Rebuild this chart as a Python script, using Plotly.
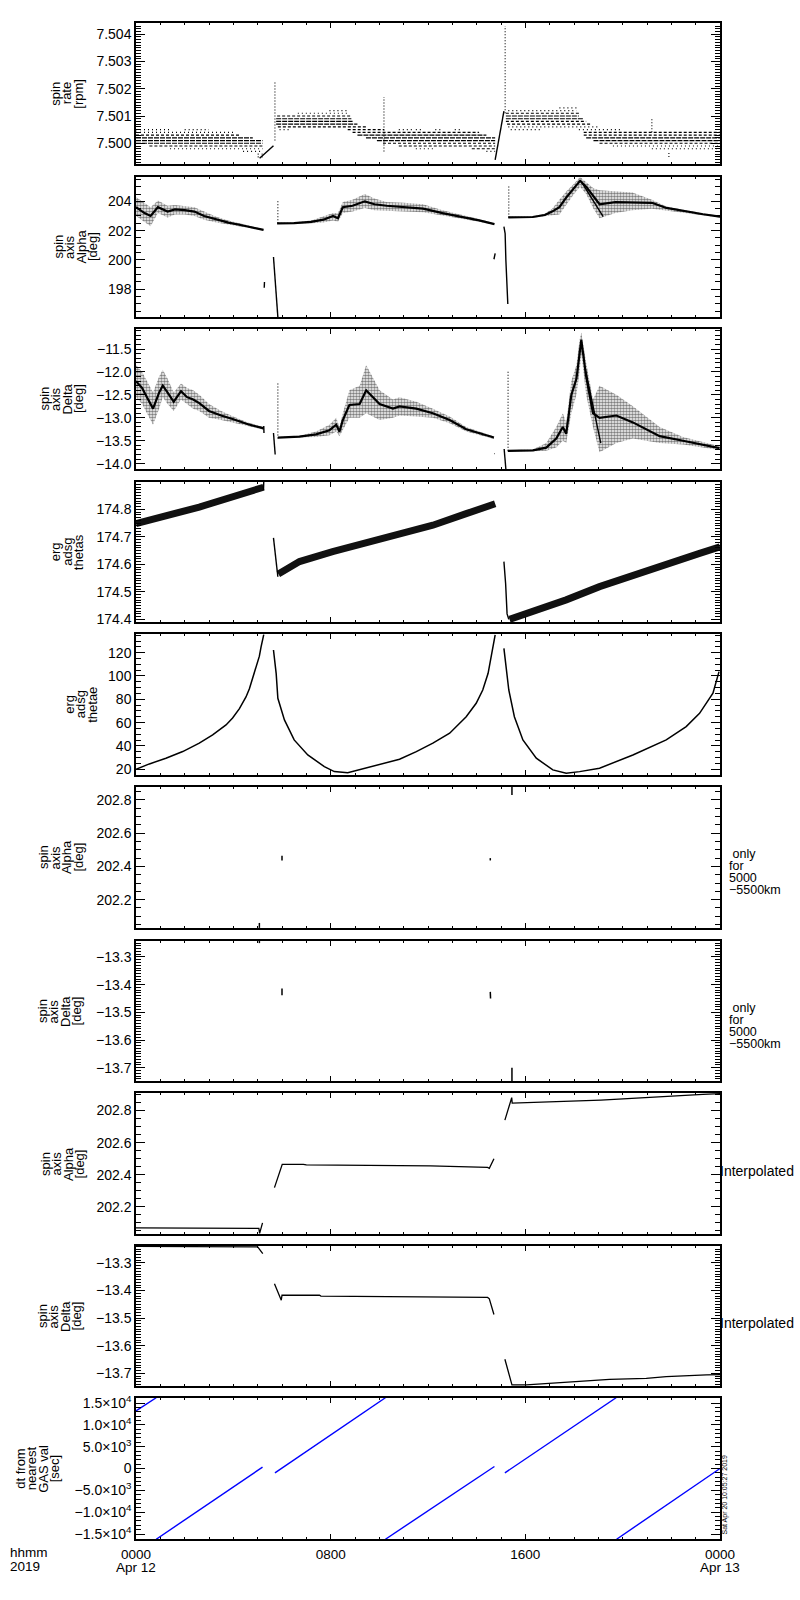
import plotly.graph_objects as go

# ------------------------------------------------------------------ data
HOURS_MAJOR = [0, 8, 16, 24]
HOURS_MAJOR_TEXT = ["0000", "0800", "1600", "0000"]
HOURS_MINOR = list(range(0, 25))

# panel 1 : spin rate [rpm]  -- quantised levels (level, start h, end h, density)
P1_LEVELS = [
    (7.5005, 0.0, 1.4, "o"), (7.5005, 2.0, 3.0, "o"), (7.5004, 0.0, 4.0, "o"),
    (7.5003, 0.0, 4.25, "d"), (7.5002, 0.0, 4.8, "s"), (7.5001, 0.0, 5.2, "s"),
    (7.5000, 0.0, 5.2, "s"), (7.4999, 0.55, 5.2, "d"), (7.4998, 1.4, 5.2, "o"),
    (7.4997, 4.4, 5.2, "o"), (7.4996, 5.0, 5.2, "o"), (7.4995, 5.0, 5.2, "o"),
    (7.5012, 7.95, 8.7, "o"), (7.5011, 6.65, 8.7, "o"), (7.5010, 5.8, 8.8, "d"),
    (7.5009, 5.76, 8.85, "s"), (7.5008, 5.76, 8.9, "s"), (7.5007, 5.76, 9.1, "s"),
    (7.5006, 5.83, 9.5, "d"), (7.5005, 5.9, 6.3, "o"), (7.5005, 8.7, 10.2, "d"),
    (7.5005, 10.8, 11.4, "o"), (7.5005, 11.5, 11.8, "o"), (7.5005, 12.3, 12.6, "o"),
    (7.5005, 13.1, 13.4, "o"), (7.5004, 8.9, 14.1, "d"), (7.5003, 9.1, 14.4, "s"),
    (7.5002, 9.45, 14.76, "s"), (7.5001, 9.9, 14.76, "s"), (7.5000, 10.15, 14.76, "d"),
    (7.4999, 10.8, 14.76, "d"), (7.4998, 11.5, 12.3, "o"), (7.4998, 13.8, 14.76, "d"),
    (7.4997, 14.4, 14.76, "o"),
    (7.5013, 17.4, 18.1, "o"), (7.5012, 15.3, 18.1, "o"), (7.5011, 15.2, 18.2, "d"),
    (7.5010, 15.2, 18.2, "s"), (7.5009, 15.2, 18.4, "s"), (7.5008, 15.2, 18.5, "d"),
    (7.5007, 15.25, 18.7, "d"), (7.5006, 15.3, 19.05, "o"), (7.5005, 15.4, 16.6, "o"),
    (7.5005, 18.2, 19.9, "o"), (7.5004, 18.4, 24.0, "d"), (7.5003, 18.4, 24.0, "d"),
    (7.5002, 18.5, 24.0, "s"), (7.5001, 18.8, 24.0, "s"), (7.5000, 19.05, 24.0, "d"),
    (7.4999, 19.6, 24.0, "o"), (7.4998, 21.2, 24.0, "o"),
]
P1_SPIKES = [(5.71, 7.5001, 7.5023), (10.19, 7.4997, 7.5017), (15.17, 7.5011, 7.5043),
             (21.2, 7.5004, 7.5009), (21.9, 7.4995, 7.4997)]
P1_RAMP1_T = [5.08, 5.65]
P1_RAMP1_V = [7.49945, 7.49991]
P1_RAMP2_T = [14.76, 15.12]
P1_RAMP2_V = [7.49939, 7.50118]

# panel 2 : spin axis Alpha [deg]
P2_B1_T = [0.0, 0.35, 0.6, 0.9, 1.3, 1.6, 2.0, 2.4, 2.8, 3.3, 3.8, 4.4, 5.0, 5.24]
P2_B1_MID = [203.6, 203.2, 203.0, 203.6, 203.3, 203.45, 203.4, 203.3, 203.0, 202.75, 202.55, 202.35, 202.15, 202.05]
P2_B1_HI = [204.3, 203.9, 203.6, 204.05, 203.7, 203.75, 203.7, 203.6, 203.3, 202.95, 202.7, 202.45, 202.2, 202.1]
P2_B1_LO = [203.0, 202.6, 202.3, 203.2, 202.9, 203.1, 203.1, 203.0, 202.75, 202.55, 202.4, 202.25, 202.1, 202.0]
P2_B2_T = [5.8, 6.5, 7.2, 7.7, 8.1, 8.3, 8.5, 8.9, 9.4, 9.8, 10.3, 11.0, 11.8, 12.6, 13.4, 14.1, 14.73]
P2_B2_MID = [202.5, 202.52, 202.6, 202.75, 203.0, 202.85, 203.6, 203.7, 204.0, 203.8, 203.7, 203.6, 203.5, 203.2, 202.95, 202.7, 202.45]
P2_B2_HI = [202.55, 202.57, 202.7, 202.95, 203.2, 203.2, 203.95, 204.1, 204.5, 204.2, 203.95, 203.9, 203.8, 203.4, 203.1, 202.8, 202.5]
P2_B2_LO = [202.45, 202.47, 202.5, 202.55, 202.7, 202.6, 203.2, 203.3, 203.55, 203.4, 203.35, 203.3, 203.25, 203.0, 202.8, 202.6, 202.4]
P2_B3_T = [15.3, 16.3, 16.8, 17.1, 17.4, 17.7, 18.0, 18.25, 18.5, 18.8, 19.05, 19.7, 20.4, 21.2, 21.8, 22.6, 23.3, 24.0]
P2_B3_MID = [202.91, 202.93, 203.07, 203.3, 203.6, 204.3, 204.9, 205.4, 205.0, 204.3, 203.8, 203.95, 203.95, 203.9, 203.55, 203.3, 203.12, 202.95]
P2_B3_HI = [202.96, 202.98, 203.15, 203.5, 204.1, 204.7, 205.2, 205.66, 205.3, 204.9, 204.75, 204.7, 204.6, 204.1, 203.65, 203.4, 203.2, 203.0]
P2_B3_LO = [202.86, 202.88, 202.98, 203.05, 203.1, 203.8, 204.5, 205.0, 204.5, 203.5, 202.85, 203.2, 203.4, 203.5, 203.4, 203.2, 203.05, 202.9]
P2_SEGS = [([5.27, 5.28], [198.1, 198.5]),
           ([5.65, 5.68, 5.76, 5.83], [200.2, 199.6, 198.0, 196.1]),
           ([14.71, 14.76], [200.05, 200.45]),
           ([15.12, 15.17, 15.2, 15.28], [202.27, 201.8, 200.0, 197.0]),
           ([18.3, 19.2], [205.35, 202.95])]
P2_SPIKES = [(5.83, 202.5, 204.1), (15.32, 202.9, 205.1)]

# panel 3 : spin axis Delta [deg]
P3_B1_T = [0.0, 0.25, 0.45, 0.7, 0.95, 1.1, 1.3, 1.55, 1.85, 2.1, 2.35, 2.6, 3.0, 3.5, 4.0, 4.6, 5.25]
P3_B1_MID = [-12.2, -12.35, -12.55, -12.8, -12.45, -12.3, -12.45, -12.65, -12.42, -12.55, -12.6, -12.68, -12.85, -12.95, -13.03, -13.14, -13.23]
P3_B1_HI = [-11.85, -12.0, -12.2, -12.45, -12.1, -11.95, -12.15, -12.45, -12.25, -12.35, -12.4, -12.5, -12.7, -12.85, -12.97, -13.1, -13.2]
P3_B1_LO = [-12.55, -12.7, -12.9, -13.15, -12.8, -12.55, -12.7, -12.85, -12.6, -12.7, -12.8, -12.85, -13.0, -13.05, -13.1, -13.18, -13.26]
P3_B2_T = [5.83, 6.72, 7.4, 7.95, 8.23, 8.36, 8.5, 8.77, 9.19, 9.46, 10.01, 10.56, 10.83, 11.52, 12.2, 12.89, 13.57, 14.71]
P3_B2_MID = [-13.43, -13.41, -13.36, -13.27, -13.15, -13.3, -13.05, -12.72, -12.7, -12.4, -12.7, -12.8, -12.75, -12.8, -12.9, -13.05, -13.25, -13.43]
P3_B2_HI = [-13.42, -13.39, -13.3, -13.15, -13.0, -13.2, -12.9, -12.4, -12.3, -11.85, -12.4, -12.6, -12.55, -12.65, -12.8, -12.97, -13.2, -13.41]
P3_B2_LO = [-13.44, -13.43, -13.42, -13.38, -13.3, -13.4, -13.25, -13.0, -13.0, -12.9, -13.05, -13.0, -12.95, -12.97, -13.0, -13.12, -13.3, -13.46]
P3_B3_T = [15.28, 16.31, 16.86, 17.27, 17.54, 17.68, 17.89, 18.1, 18.23, 18.3, 18.5, 18.78, 19.05, 19.74, 20.42, 21.52, 22.48, 23.98]
P3_B3_MID = [-13.72, -13.71, -13.65, -13.45, -13.2, -13.35, -12.5, -12.15, -11.6, -11.3, -12.1, -12.9, -13.0, -12.95, -13.1, -13.4, -13.5, -13.66]
P3_B3_HI = [-13.71, -13.69, -13.55, -13.2, -12.9, -13.1, -12.2, -11.85, -11.3, -11.14, -11.8, -12.6, -12.3, -12.5, -12.75, -13.2, -13.42, -13.62]
P3_B3_LO = [-13.73, -13.73, -13.72, -13.65, -13.5, -13.55, -12.9, -12.5, -12.0, -11.6, -12.5, -13.2, -13.75, -13.55, -13.45, -13.55, -13.58, -13.7]
P3_SEGS = [([5.25, 5.26], [-13.18, -13.33]),
           ([5.65, 5.68, 5.72], [-13.33, -13.6, -13.80]),
           ([14.73, 14.75], [-13.78, -13.78]),
           ([15.13, 15.17, 15.2], [-13.68, -13.9, -14.12]),
           ([18.45, 19.1], [-11.9, -13.55])]
P3_SPIKES = [(5.83, -13.45, -12.21), (15.29, -13.72, -11.99)]

# panel 4 : erg adsg thetas
P4_B1_T = [0.0, 2.6, 5.24]
P4_B1_V = [174.748, 174.808, 174.88]
P4_B2_T = [5.85, 6.72, 8.08, 9.46, 10.83, 12.2, 13.57, 14.76]
P4_B2_V = [174.565, 174.61, 174.646, 174.676, 174.706, 174.742, 174.784, 174.82]
P4_B3_T = [15.35, 16.31, 17.68, 19.05, 20.42, 21.79, 23.16, 24.0]
P4_B3_V = [174.40, 174.429, 174.471, 174.519, 174.561, 174.604, 174.64, 174.664]
P4_SEGS = [([5.24, 5.25], [174.87, 174.899]),
           ([5.65, 5.70, 5.76, 5.83], [174.696, 174.652, 174.591, 174.555]),
           ([15.12, 15.19, 15.25, 15.32], [174.61, 174.53, 174.42, 174.40])]

# panel 5 : erg adsg thetae
P5_C1_T = [0.0, 0.55, 1.23, 1.92, 2.6, 3.15, 3.7, 3.97, 4.25, 4.52, 4.66, 4.8, 4.93, 5.07, 5.14, 5.25]
P5_C1_V = [20.0, 24.6, 29.5, 35.2, 42.4, 49.5, 58.0, 64.0, 72.0, 82.0, 89.0, 98.0, 107.0, 117.0, 125.0, 135.5]
P5_C2_T = [5.65, 5.76, 5.83, 6.1, 6.5, 7.06, 7.74, 8.15, 8.7, 9.38, 10.83, 11.52, 12.2, 12.89, 13.57, 13.98, 14.25, 14.47, 14.6, 14.71, 14.76]
P5_C2_V = [122.3, 102.3, 80.9, 62.3, 45.2, 32.3, 22.3, 18.0, 17.0, 20.9, 28.6, 35.2, 42.4, 50.9, 65.1, 76.6, 88.0, 102.3, 116.6, 128.0, 135.2]
P5_C3_T = [15.12, 15.21, 15.32, 15.55, 15.9, 16.45, 17.13, 17.68, 18.23, 19.05, 20.42, 21.79, 22.61, 23.16, 23.71, 23.96]
P5_C3_V = [123.7, 105.2, 88.0, 65.1, 45.2, 29.5, 19.5, 16.6, 18.0, 20.9, 32.3, 45.2, 56.6, 68.0, 85.2, 103.7]

# panel 6 / 7 : values only for 5000-5500 km
P6_SEGS = [([5.07, 5.07], [202.03, 202.06]), ([6.0, 6.0], [202.436, 202.465]),
           ([14.56, 14.56], [202.436, 202.45]), ([15.45, 15.45], [202.83, 202.878])]
P7_SEGS = [([5.07, 5.07], [-13.2423, -13.25]), ([6.0, 6.0], [-13.414, -13.438]),
           ([14.56, 14.57], [-13.426, -13.45]), ([15.45, 15.45], [-13.70, -13.748])]

# panel 8 : interpolated Alpha
P8_L1_T = [0.0, 5.05, 5.08, 5.2]
P8_L1_V = [202.069, 202.066, 202.035, 202.1]
P8_L2_T = [5.69, 6.01, 6.88, 7.0, 12.1, 14.45, 14.52, 14.71]
P8_L2_V = [202.32, 202.465, 202.465, 202.461, 202.455, 202.446, 202.44, 202.50]
P8_L3_T = [15.16, 15.44, 15.46, 19.1, 23.3, 24.0]
P8_L3_V = [202.74, 202.88, 202.846, 202.865, 202.9, 202.905]

# panel 9 : interpolated Delta
P9_L1_T = [0.0, 5.0, 5.07, 5.21]
P9_L1_V = [-13.24, -13.242, -13.25, -13.266]
P9_L2_T = [5.69, 5.97, 6.0, 7.54, 7.6, 14.45, 14.52, 14.71]
P9_L2_V = [-13.375, -13.435, -13.417, -13.417, -13.42, -13.425, -13.43, -13.487]
P9_L3_T = [15.16, 15.45, 16.04, 17.0, 17.82, 19.46, 20.97, 21.79, 23.44, 24.0]
P9_L3_V = [-13.649, -13.742, -13.742, -13.736, -13.73, -13.722, -13.718, -13.712, -13.706, -13.705]

# panel 10 : dt from nearest GAS val [sec]
P10_SEGS = [([0.0, 0.83], [13200, 16200]), ([0.83, 5.2], [-16200, 300]),
            ([5.71, 10.25], [-1000, 16200]), ([10.25, 14.73], [-16200, 460]),
            ([15.16, 19.73], [-1000, 16200]), ([19.75, 24.0], [-16200, 0])]
P10_TICKVALS = [15000, 10000, 5000, 0, -5000, -10000, -15000]
P10_TICKTEXT = ["1.5×10<sup>4</sup>", "1.0×10<sup>4</sup>", "5.0×10<sup>3</sup>", "0",
                "−5.0×10<sup>3</sup>", "−1.0×10<sup>4</sup>", "−1.5×10<sup>4</sup>"]

TITLES = [["spin", "rate", "[rpm]"], ["spin", "axis", "Alpha", "[deg]"],
          ["spin", "axis", "Delta", "[deg]"], ["erg", "adsg", "thetas"],
          ["erg", "adsg", "thetae"], ["spin", "axis", "Alpha", "[deg]"],
          ["spin", "axis", "Delta", "[deg]"], ["spin", "axis", "Alpha", "[deg]"],
          ["spin", "axis", "Delta", "[deg]"], ["dt from", "nearest", "GAS val", "[sec]"]]
ONLY_NOTE = ["\u00a0only", "for", "5000", "−5500km"]

# ------------------------------------------------------------------ layout constants
W, H = 800, 1600
ML, MR, MT, MB = 136, 80, 23, 61
PW, PH = W - ML - MR, H - MT - MB
PANEL_TOP = [23, 177, 329, 482, 634, 787, 941, 1093, 1246, 1398]
PANEL_BOT = [164, 317, 469, 622, 775, 928, 1081, 1234, 1386, 1539]
Y_RANGES = [(7.49924, 7.50441), (196.11, 205.66), (-14.116, -11.064), (174.3906, 174.899),
            (15.1, 136.0), (202.0295, 202.878), (-13.748, -13.2423), (202.031, 202.909),
            (-13.746, -13.2385), (-16145, 16145)]
Y_TICK = [(7.5, 0.001, 0.0001, ".3f"), (198, 2, 0.5, "d"), (-14, 0.5, 0.1, ".1f"),
          (174.4, 0.1, 0.01, ".1f"), (20, 20, 5, "d"), (202.2, 0.2, 0.05, ".1f"),
          (-13.7, 0.1, 0.01, ".1f"), (202.2, 0.2, 0.05, ".1f"), (-13.7, 0.1, 0.01, ".1f"),
          None]
TITLE_CX = [66.7, 75.8, 60.8, 66.7, 80.8, 60.8, 59.2, 62.7, 59.2, 37.5]
FONT = "Liberation Sans"
BLACK = "#000000"
BLUE = "#0000ff"


def px_x(px):
    return (px - ML) / PW


def px_y(py):
    return (H - MB - py) / PH


def axn(k):
    return ("x" if k == 1 else f"x{k}", "y" if k == 1 else f"y{k}")


fig = go.Figure()


def line(k, xs, ys, color=BLACK, width=1.3, dash="solid"):
    xa, ya = axn(k)
    fig.add_trace(go.Scatter(x=xs, y=ys, xaxis=xa, yaxis=ya, mode="lines",
                             line=dict(color=color, width=width, dash=dash),
                             hoverinfo="skip", showlegend=False))


def cloud(k, t, hi, lo):
    xa, ya = axn(k)
    fig.add_trace(go.Scatter(x=list(t) + list(t)[::-1], y=list(hi) + list(lo)[::-1],
                             xaxis=xa, yaxis=ya, mode="lines", fill="toself",
                             line=dict(width=0, color="rgba(0,0,0,0)"),
                             fillcolor="rgba(0,0,0,0.12)",
                             fillpattern=dict(shape=".", fgcolor=BLACK, size=3, solidity=0.6,
                                              bgcolor="rgba(255,255,255,0)"),
                             hoverinfo="skip", showlegend=False))


def segs(k, seglist, **kw):
    xs, ys = [], []
    for sx, sy in seglist:
        xs += list(sx) + [None]
        ys += list(sy) + [None]
    line(k, xs, ys, **kw)


def spikes(k, sp, **kw):
    segs(k, [([t, t], [a, b]) for t, a, b in sp], **kw)


# panel 1
DASH = {"s": "5px,1px", "d": "3px,2px", "o": "1px,3px"}
for code, pattern in DASH.items():
    xs, ys = [], []
    for lv, t0, t1, d in P1_LEVELS:
        if d == code:
            xs += [t0, t1, None]
            ys += [lv, lv, None]
    line(1, xs, ys, width=1.2, dash=pattern)
spikes(1, P1_SPIKES, width=1.1, dash="1px,2px")
line(1, P1_RAMP1_T, P1_RAMP1_V, width=1.4)
line(1, P1_RAMP2_T, P1_RAMP2_V, width=1.4)

# panel 2
for t, mid, hi, lo in [(P2_B1_T, P2_B1_MID, P2_B1_HI, P2_B1_LO),
                       (P2_B2_T, P2_B2_MID, P2_B2_HI, P2_B2_LO),
                       (P2_B3_T, P2_B3_MID, P2_B3_HI, P2_B3_LO)]:
    cloud(2, t, hi, lo)
    line(2, t, mid, width=2.2)
segs(2, P2_SEGS, width=1.4)
spikes(2, P2_SPIKES, width=1.1, dash="1px,2px")

# panel 3
for t, mid, hi, lo in [(P3_B1_T, P3_B1_MID, P3_B1_HI, P3_B1_LO),
                       (P3_B2_T, P3_B2_MID, P3_B2_HI, P3_B2_LO),
                       (P3_B3_T, P3_B3_MID, P3_B3_HI, P3_B3_LO)]:
    cloud(3, t, hi, lo)
    line(3, t, mid, width=2.2)
segs(3, P3_SEGS, width=1.4)
spikes(3, P3_SPIKES, width=1.1, dash="1px,2px")

# panel 4
for t, v in [(P4_B1_T, P4_B1_V), (P4_B2_T, P4_B2_V), (P4_B3_T, P4_B3_V)]:
    line(4, t, v, width=7, color="#111111")
segs(4, P4_SEGS, width=1.4)

# panel 5
for t, v in [(P5_C1_T, P5_C1_V), (P5_C2_T, P5_C2_V), (P5_C3_T, P5_C3_V)]:
    line(5, t, v, width=1.5)

# panels 6, 7
segs(6, P6_SEGS, width=1.5)
segs(7, P7_SEGS, width=1.5)

# panels 8, 9
for t, v in [(P8_L1_T, P8_L1_V), (P8_L2_T, P8_L2_V), (P8_L3_T, P8_L3_V)]:
    line(8, t, v, width=1.3)
for t, v in [(P9_L1_T, P9_L1_V), (P9_L2_T, P9_L2_V), (P9_L3_T, P9_L3_V)]:
    line(9, t, v, width=1.3)

# panel 10
segs(10, P10_SEGS, color=BLUE, width=1.4)

# ------------------------------------------------------------------ axes
layout = dict(width=W, height=H, margin=dict(l=ML, r=MR, t=MT, b=MB),
              paper_bgcolor="white", plot_bgcolor="white", showlegend=False,
              font=dict(family=FONT, size=14, color=BLACK))
annotations = []
for i in range(10):
    k = i + 1
    xname = "xaxis" if k == 1 else f"xaxis{k}"
    yname = "yaxis" if k == 1 else f"yaxis{k}"
    xa, ya = axn(k)
    dom = [px_y(PANEL_BOT[i]), px_y(PANEL_TOP[i])]
    xax = dict(domain=[0, 1], range=[0, 24], anchor=ya, tickmode="array",
               tickvals=HOURS_MAJOR, ticktext=HOURS_MAJOR_TEXT,
               ticks="inside", ticklen=5, tickwidth=1.2, tickcolor=BLACK,
               minor=dict(tickmode="array", tickvals=HOURS_MINOR, ticks="inside",
                          ticklen=2.5, tickwidth=1, tickcolor=BLACK),
               showline=True, linecolor=BLACK, linewidth=1.5, mirror="ticks",
               showgrid=False, zeroline=False, showticklabels=(k == 10),
               tickfont=dict(family=FONT, size=13.5, color=BLACK), ticklabelstandoff=2)
    if k > 1:
        xax["matches"] = "x"
    yax = dict(domain=dom, range=list(Y_RANGES[i]), anchor=xa,
               ticks="inside", ticklen=9, tickwidth=1.2, tickcolor=BLACK,
               showline=True, linecolor=BLACK, linewidth=1.5, mirror="ticks",
               showgrid=False, zeroline=False,
               tickfont=dict(family=FONT, size=14, color=BLACK))
    if Y_TICK[i] is not None:
        t0, dt, mdt, fmt = Y_TICK[i]
        yax.update(tickmode="linear", tick0=t0, dtick=dt, tickformat=fmt,
                   minor=dict(tick0=t0, dtick=mdt, ticks="inside", ticklen=5,
                              tickwidth=1, tickcolor=BLACK))
    else:
        yax.update(tickmode="array", tickvals=P10_TICKVALS, ticktext=P10_TICKTEXT,
                   minor=dict(tick0=0, dtick=1000, ticks="inside", ticklen=5,
                              tickwidth=1, tickcolor=BLACK))
    layout[xname] = xax
    layout[yname] = yax

    # stacked title lines (rotated)
    lines = TITLES[i]
    n = len(lines)
    cy = (PANEL_TOP[i] + PANEL_BOT[i]) / 2
    pitch = 11.5
    for j, txt in enumerate(lines):
        cx = TITLE_CX[i] + (j - (n - 1) / 2) * pitch
        annotations.append(dict(x=px_x(cx), y=px_y(cy), xref="paper", yref="paper",
                                text=txt, textangle=-90, showarrow=False,
                                xanchor="center", yanchor="middle",
                                font=dict(family=FONT, size=13, color=BLACK)))

# right-hand notes
for i in (5, 6):
    for j, txt in enumerate(ONLY_NOTE):
        annotations.append(dict(x=px_x(727), y=px_y(PANEL_TOP[i] + 66.5 + 12 * j),
                                xref="paper", yref="paper", text=txt, showarrow=False,
                                xanchor="left", yanchor="middle",
                                font=dict(family=FONT, size=12.5, color=BLACK)))
for i in (7, 8):
    cy = (PANEL_TOP[i] + PANEL_BOT[i]) / 2 + 7
    annotations.append(dict(x=px_x(718), y=px_y(cy), xref="paper", yref="paper",
                            text="Interpolated", showarrow=False, xanchor="left",
                            yanchor="middle", font=dict(family=FONT, size=14, color=BLACK)))

# bottom labels
annotations.append(dict(x=px_x(8), y=px_y(1552), xref="paper", yref="paper", text="hhmm",
                        showarrow=False, xanchor="left", yanchor="middle",
                        font=dict(family=FONT, size=13.5, color=BLACK)))
annotations.append(dict(x=px_x(8), y=px_y(1566), xref="paper", yref="paper", text="2019",
                        showarrow=False, xanchor="left", yanchor="middle",
                        font=dict(family=FONT, size=13.5, color=BLACK)))
for hx, txt in [(0, "Apr 12"), (24, "Apr 13")]:
    annotations.append(dict(x=hx, y=px_y(1567), xref="x10", yref="paper", text=txt,
                            showarrow=False, xanchor="center", yanchor="middle",
                            font=dict(family=FONT, size=13.5, color=BLACK)))
annotations.append(dict(x=px_x(724.5), y=px_y(1495), xref="paper", yref="paper",
                        text="Sat Apr 20 10:05:27 2019", textangle=-90, showarrow=False,
                        xanchor="center", yanchor="middle",
                        font=dict(family=FONT, size=7, color=BLACK)))

layout["annotations"] = annotations
fig.update_layout(**layout)
fig.write_html("out.html", config={"displayModeBar": False},
               post_script="document.body.style.margin='0';document.body.style.padding='0';"
                           "document.documentElement.style.overflow='hidden';")
